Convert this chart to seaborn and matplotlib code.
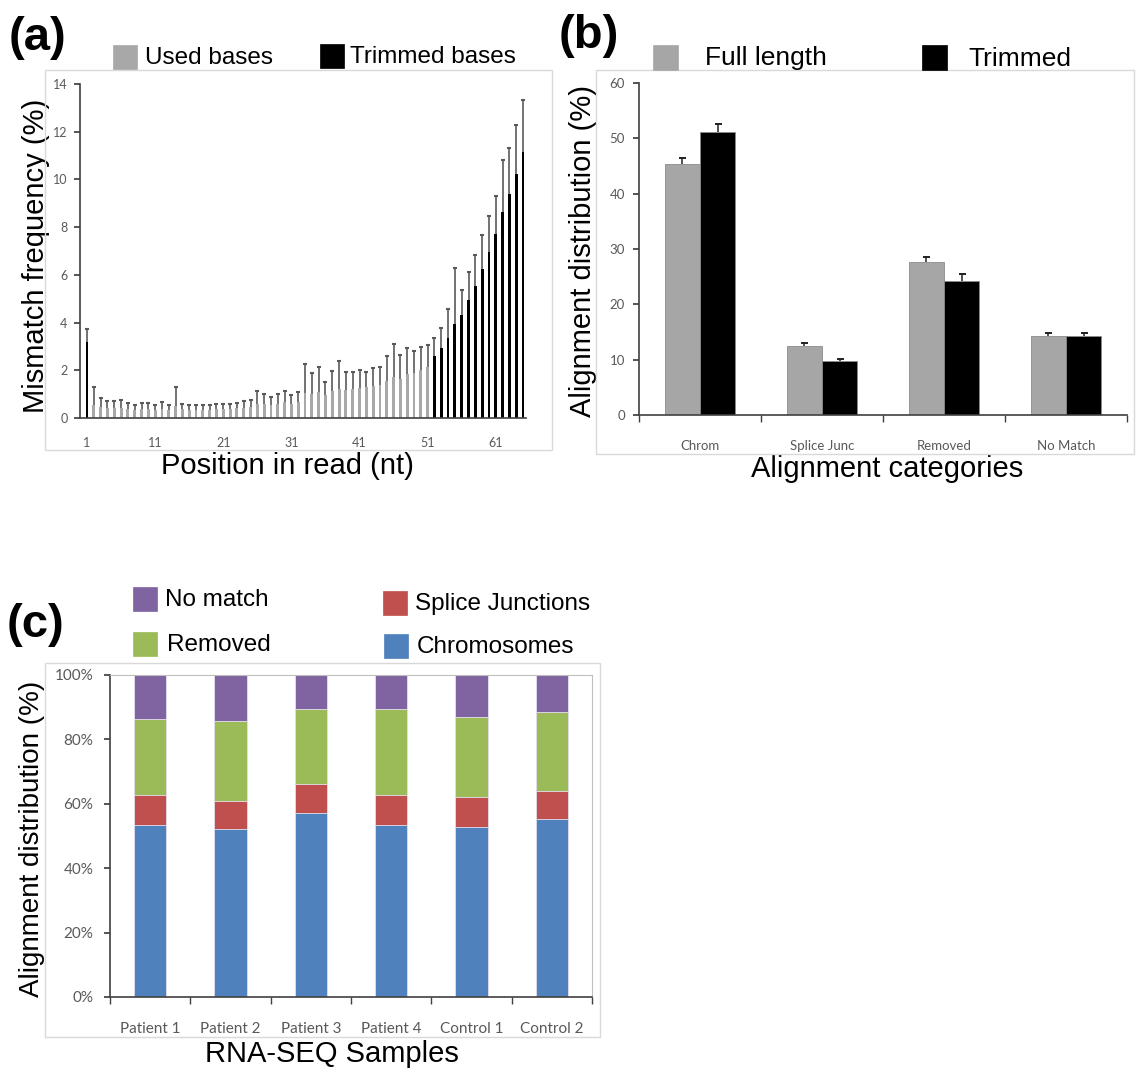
import numpy as np
import pandas as pd
import matplotlib
matplotlib.use("Agg")
import matplotlib.pyplot as plt
import seaborn as sns
from matplotlib.patches import Rectangle
from matplotlib.ticker import FixedLocator, PercentFormatter

# ---------------- data ----------------
# panel (a): mismatch frequency by position in read
positions = [str(p) for p in range(1, 66)]
mismatch = [3.20, 0.55, 0.45, 0.40, 0.40, 0.42, 0.38, 0.35, 0.38, 0.38,
            0.34, 0.38, 0.35, 0.50, 0.36, 0.34, 0.35, 0.34, 0.35, 0.37,
            0.38, 0.38, 0.40, 0.42, 0.45, 0.60, 0.58, 0.55, 0.60, 0.65,
            0.60, 0.68, 1.05, 1.00, 1.10, 0.95, 1.12, 1.20, 1.18, 1.22,
            1.25, 1.28, 1.35, 1.40, 1.55, 1.70, 1.65, 1.85, 1.90, 2.00,
            2.15, 2.61, 2.94, 3.37, 3.92, 4.32, 4.94, 5.54, 6.26, 6.97,
            7.70, 8.62, 9.37, 10.22, 11.16]
mismatch_upper = [3.75, 1.31, 0.82, 0.71, 0.70, 0.75, 0.61, 0.54, 0.64, 0.64,
                  0.53, 0.67, 0.56, 1.30, 0.60, 0.53, 0.54, 0.53, 0.53, 0.60,
                  0.60, 0.60, 0.64, 0.70, 0.75, 1.13, 1.00, 0.89, 1.00, 1.14,
                  0.96, 1.09, 2.26, 1.87, 2.12, 1.49, 1.95, 2.37, 1.93, 1.94,
                  2.01, 1.94, 2.08, 2.12, 2.61, 3.09, 2.64, 2.92, 2.79, 2.96,
                  3.06, 3.34, 3.79, 4.56, 6.30, 5.36, 6.13, 6.83, 7.67, 8.46,
                  9.30, 10.81, 11.33, 12.30, 13.32]
base_type = ["Trimmed bases"] + ["Used bases"] * 50 + ["Trimmed bases"] * 14

# panel (b): alignment categories
categories_b = ["Chrom", "Splice Junc", "Removed", "No Match"]
full_length = [45.4, 12.5, 27.6, 14.2]
full_length_err = [1.1, 0.5, 0.9, 0.6]
trimmed = [51.2, 9.8, 24.3, 14.2]
trimmed_err = [1.4, 0.3, 1.2, 0.6]

# panel (c): stacked alignment distribution per sample
samples = ["Patient 1", "Patient 2", "Patient 3", "Patient 4", "Control 1", "Control 2"]
chromosomes = [53.4, 52.1, 57.0, 53.4, 52.9, 55.2]
splice_junctions = [9.3, 8.8, 9.2, 9.3, 9.2, 8.7]
removed = [23.5, 24.8, 23.3, 26.8, 24.8, 24.6]
no_match = [13.8, 14.3, 10.5, 10.5, 13.1, 11.5]

# ---------------- style ----------------
sns.set_theme(style="white")
plt.rcParams["font.family"] = ["Liberation Sans", "DejaVu Sans"]
plt.rcParams["text.color"] = "black"
plt.rcParams["axes.labelcolor"] = "black"
TICKFONT = "Lato"
TICKCOL = "#595959"
W, H = 1138, 1070
fig = plt.figure(figsize=(W / 100, H / 100), dpi=100)


def fx(x):
    return x / W


def fy(y):
    return 1 - y / H


def axes_px(l, t, r, b):
    return fig.add_axes([fx(l), fy(b), (r - l) / W, (b - t) / H])


def frame(l, t, r, b):
    fig.patches.append(Rectangle((fx(l), fy(b)), (r - l) / W, (b - t) / H,
                                 transform=fig.transFigure, fill=False,
                                 edgecolor="#D9D9D9", lw=1.0, zorder=0))


def legend_sq(l, t, size, color, text, tx, fs, ec=None):
    fig.patches.append(Rectangle((fx(l), fy(t + size)), size / W, size / H,
                                 transform=fig.transFigure, facecolor=color,
                                 edgecolor=ec or color, lw=0.5, zorder=3))
    fig.text(fx(tx), fy(t + size / 2 + 1), text, fontsize=fs, va="center",
             ha="left", color="black")


def up_errorbars(ax, x, y, upper, color, lw, cap_px):
    ax.vlines(x, y, upper, colors=color, linewidth=lw, zorder=4)
    ax.plot(x, upper, ls="none", marker="_", ms=cap_px * 0.72, mew=lw + 0.3,
            color=color, zorder=4)


def style_ticks(ax):
    for lab in ax.get_xticklabels() + ax.get_yticklabels():
        lab.set_fontfamily(TICKFONT)
    for s in ["top", "right"]:
        ax.spines[s].set_visible(False)
    for s in ["left", "bottom"]:
        ax.spines[s].set_color("#404040")
        ax.spines[s].set_linewidth(1.2)


# frames
frame(45, 70, 552, 450)
frame(596, 70, 1134, 454)
frame(45, 663, 600, 1037)

# ---------------- panel (a) ----------------
GRAY_A = "#A8A8A8"
df_a = pd.DataFrame({"pos": positions, "val": mismatch, "type": base_type})
ax_a = axes_px(80, 84, 526, 418)
sns.barplot(data=df_a, x="pos", y="val", hue="type", order=positions,
            hue_order=["Used bases", "Trimmed bases"], dodge=False,
            palette={"Used bases": GRAY_A, "Trimmed bases": "black"},
            width=0.42, errorbar=None, ax=ax_a, legend=False,
            linewidth=0, saturation=1)
xs = np.arange(len(positions))
up_errorbars(ax_a, xs, mismatch, mismatch_upper, "#5A5A5A", 1.2, 5)
ax_a.set_xlim(-1.03, 64.44)
ax_a.set_ylim(0, 14)
ax_a.set_yticks(range(0, 15, 2))
ax_a.xaxis.set_major_locator(FixedLocator(list(range(0, 65, 10))))
ax_a.set_xticklabels([positions[i] for i in range(0, 65, 10)])
ax_a.xaxis.set_minor_locator(FixedLocator([i - 0.5 for i in range(0, 66, 5)]))
ax_a.tick_params(axis="x", which="major", length=0, pad=14,
                 labelsize=9, labelcolor=TICKCOL)
ax_a.tick_params(axis="x", which="minor", length=5, direction="inout",
                 color="#404040", width=1)
ax_a.tick_params(axis="y", length=4, direction="out", color="#404040",
                 labelsize=9, labelcolor=TICKCOL, pad=5, left=True)
style_ticks(ax_a)
ax_a.set_xlabel("Position in read (nt)", fontsize=21)
ax_a.xaxis.set_label_coords((287 - 80) / 446, -(452 - 418) / 334)
ax_a.set_ylabel("Mismatch frequency (%)", fontsize=21)
ax_a.yaxis.set_label_coords((50 - 80) / 446, (418 - 256) / 334)

fig.text(fx(9), fy(38), "(a)", fontsize=34, fontweight="bold", va="center")
legend_sq(113, 45, 24, GRAY_A, "Used bases", 145, 17.5)
legend_sq(320, 44, 24, "black", "Trimmed bases", 350, 17.5)

# ---------------- panel (b) ----------------
GRAY_B = "#A6A6A6"
df_b = pd.DataFrame({
    "cat": categories_b * 2,
    "val": full_length + trimmed,
    "grp": ["Full length"] * 4 + ["Trimmed"] * 4,
})
ax_b = axes_px(639, 83, 1127, 415)
sns.barplot(data=df_b, x="cat", y="val", hue="grp", order=categories_b,
            hue_order=["Full length", "Trimmed"],
            palette={"Full length": GRAY_B, "Trimmed": "black"},
            width=0.574, errorbar=None, ax=ax_b, legend=False,
            edgecolor="#8C8C8C", linewidth=0.6, saturation=1)
cx = np.arange(len(categories_b))
off = 0.574 / 4
up_errorbars(ax_b, cx - off, full_length,
             np.array(full_length) + np.array(full_length_err), "#202020", 1.1, 7)
up_errorbars(ax_b, cx + off, trimmed,
             np.array(trimmed) + np.array(trimmed_err), "#202020", 1.1, 7)
ax_b.set_xlim(-0.5, 3.5)
ax_b.set_ylim(0, 60)
ax_b.set_yticks(range(0, 61, 10))
ax_b.xaxis.set_minor_locator(FixedLocator([-0.5, 0.5, 1.5, 2.5, 3.5]))
ax_b.tick_params(axis="x", which="major", length=0, pad=18,
                 labelsize=9.5, labelcolor=TICKCOL)
ax_b.tick_params(axis="x", which="minor", length=5, direction="out",
                 color="#404040", width=1, bottom=True)
ax_b.tick_params(axis="y", length=4, direction="out", color="#404040",
                 labelsize=9.5, labelcolor=TICKCOL, pad=6, left=True)
style_ticks(ax_b)
ax_b.set_xlabel("Alignment categories", fontsize=21)
ax_b.xaxis.set_label_coords((887 - 639) / 488, -(455 - 415) / 332)
ax_b.set_ylabel("Alignment distribution (%)", fontsize=21)
ax_b.yaxis.set_label_coords((597 - 639) / 488, (415 - 251) / 332)

fig.text(fx(559), fy(36), "(b)", fontsize=34, fontweight="bold", va="center")
legend_sq(653, 45, 25, GRAY_B, "Full length", 705, 19)
legend_sq(922, 45, 25, "black", "Trimmed", 968, 19)

# ---------------- panel (c) ----------------
df_c = pd.DataFrame({"sample": samples,
                     "Chromosomes": chromosomes,
                     "Splice Junctions": splice_junctions,
                     "Removed": removed,
                     "No match": no_match})
layers = ["Chromosomes", "Splice Junctions", "Removed", "No match"]
colors_c = {"Chromosomes": "#4F81BD", "Splice Junctions": "#C0504D",
            "Removed": "#9BBB59", "No match": "#8064A2"}
cum = df_c[layers].cumsum(axis=1)
ax_c = axes_px(110, 675, 592, 997)
for layer in reversed(layers):
    sns.barplot(x=df_c["sample"], y=cum[layer], order=samples,
                color=colors_c[layer], width=0.40, errorbar=None, ax=ax_c,
                edgecolor="#E6E0F0", linewidth=0.6, saturation=1)
ax_c.set_xlim(-0.5, 5.5)
ax_c.set_ylim(0, 100)
ax_c.set_yticks(range(0, 101, 20))
ax_c.yaxis.set_major_formatter(PercentFormatter(100, decimals=0))
ax_c.xaxis.set_minor_locator(FixedLocator([i - 0.5 for i in range(7)]))
ax_c.tick_params(axis="x", which="major", length=0, pad=18,
                 labelsize=11, labelcolor=TICKCOL)
ax_c.tick_params(axis="x", which="minor", length=5, direction="out",
                 color="#404040", width=1, bottom=True)
ax_c.tick_params(axis="y", length=4, direction="out", color="#404040",
                 labelsize=11, labelcolor=TICKCOL, pad=8, left=True)
style_ticks(ax_c)
for s in ["top", "right"]:
    ax_c.spines[s].set_visible(True)
    ax_c.spines[s].set_color("#BFBFBF")
    ax_c.spines[s].set_linewidth(0.8)
ax_c.set_xlabel("RNA-SEQ Samples", fontsize=21)
ax_c.xaxis.set_label_coords((332 - 110) / 482, -(1040 - 997) / 322)
ax_c.set_ylabel("Alignment distribution (%)", fontsize=20)
ax_c.yaxis.set_label_coords((45 - 110) / 482, (997 - 839) / 322)

fig.text(fx(7), fy(625), "(c)", fontsize=34, fontweight="bold", va="center")
legend_sq(133, 587, 24, colors_c["No match"], "No match", 165, 17.5)
legend_sq(133, 632, 24, colors_c["Removed"], "Removed", 167, 17.5)
legend_sq(383, 591, 24, colors_c["Splice Junctions"], "Splice Junctions", 415, 17.5)
legend_sq(384, 634, 24, colors_c["Chromosomes"], "Chromosomes", 417, 17.5)

fig.savefig("out.png", dpi=100, facecolor="white")
